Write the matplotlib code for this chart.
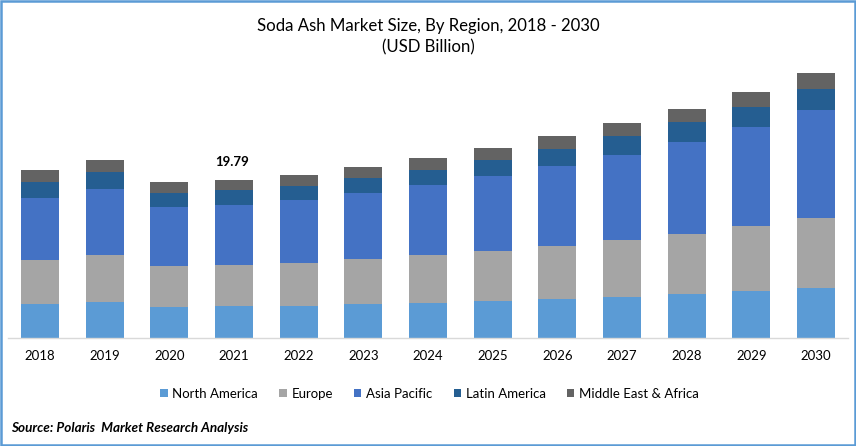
# Soda ash market size, stacked bars by region
import matplotlib
matplotlib.use("Agg")
import matplotlib.pyplot as plt
from matplotlib.patches import Rectangle
import numpy as np

plt.rcParams["font.family"] = ["Lato", "DejaVu Sans"]

# Values (USD billion)
years = ["2018", "2019", "2020", "2021", "2022", "2023", "2024",
         "2025", "2026", "2027", "2028", "2029", "2030"]
north_america = [4.26, 4.51, 3.88, 4.01, 4.01, 4.26, 4.38, 4.63, 4.88, 5.14, 5.51, 5.89, 6.26]
europe = [5.51, 5.89, 5.14, 5.14, 5.39, 5.64, 6.01, 6.26, 6.64, 7.14, 7.52, 8.14, 8.77]
asia_pacific = [7.77, 8.27, 7.39, 7.51, 7.89, 8.27, 8.77, 9.39, 10.02, 10.65, 11.52, 12.40, 13.53]
latin_america = [2.00, 2.13, 1.75, 1.88, 1.75, 1.88, 1.88, 2.00, 2.13, 2.38, 2.51, 2.51, 2.63]
middle_east = [1.50, 1.50, 1.38, 1.25, 1.38, 1.38, 1.50, 1.50, 1.63, 1.63, 1.63, 1.88, 2.00]

region_names = ["North America", "Europe", "Asia Pacific", "Latin America", "Middle East & Africa"]
region_values = [north_america, europe, asia_pacific, latin_america, middle_east]
region_colors = ["#5B9BD5", "#A5A5A5", "#4472C4", "#255E91", "#636363"]

labelled_year = "2021"
labelled_value = "19.79"

W, H = 856, 446
fig = plt.figure(figsize=(W / 100, H / 100), dpi=100, facecolor="white")

# Axes placed in pixels: x 7.7-848.4, baseline at y=338
ax = fig.add_axes([7.7 / W, (H - 338) / H, (848.4 - 7.7) / W, 278 / H])

x = np.arange(len(years))
bottom = np.zeros(len(years))
for name, values, color in zip(region_names, region_values, region_colors):
    ax.bar(x, values, width=0.588, bottom=bottom, color=color, label=name, linewidth=0)
    bottom += np.array(values)

ax.set_xlim(-0.5, 12.5)
ax.set_ylim(0, 34.82)
ax.set_xticks(x)
ax.set_xticklabels(years, fontsize=9.5, color="black")
ax.set_yticks([])
ax.tick_params(axis="x", length=0, pad=9)
for side in ["top", "left", "right"]:
    ax.spines[side].set_visible(False)
ax.spines["bottom"].set_color("#D9D9D9")
ax.spines["bottom"].set_linewidth(1.0)

# Only one bar carries a total
idx = years.index(labelled_year)
ax.text(x[idx] - 0.03, bottom[idx] + 2.3, labelled_value, ha="center", va="center",
        fontsize=9.5, fontweight="bold", color="black")

fig.text(428 / W, 1 - 26.5 / H, "Soda Ash Market Size, By Region, 2018 - 2030",
         ha="center", va="center", fontsize=12.05, color="black")
fig.text(428 / W, 1 - 47.5 / H, "(USD Billion)",
         ha="center", va="center", fontsize=12.05, color="black")

ax.legend(loc="center", bbox_to_anchor=(429.5 / W, 1 - 393.5 / H), bbox_transform=fig.transFigure,
          ncol=5, frameon=False, fontsize=9.5, handlelength=0.55, handleheight=0.6,
          handletextpad=0.35, columnspacing=1.62, borderpad=0, borderaxespad=0)

fig.text(11 / W, 1 - 428.5 / H, "Source: Polaris  Market Research Analysis",
         ha="left", va="center", fontsize=9.75, fontweight="bold", fontstyle="italic", color="black")

# Blue frame round the whole picture
fig.add_artist(Rectangle((1.2 / W, 1.2 / H), (W - 2.4) / W, (H - 2.4) / H, transform=fig.transFigure,
                         fill=False, edgecolor="#5B9BD5", linewidth=1.8))

fig.savefig("out.png", dpi=100)
